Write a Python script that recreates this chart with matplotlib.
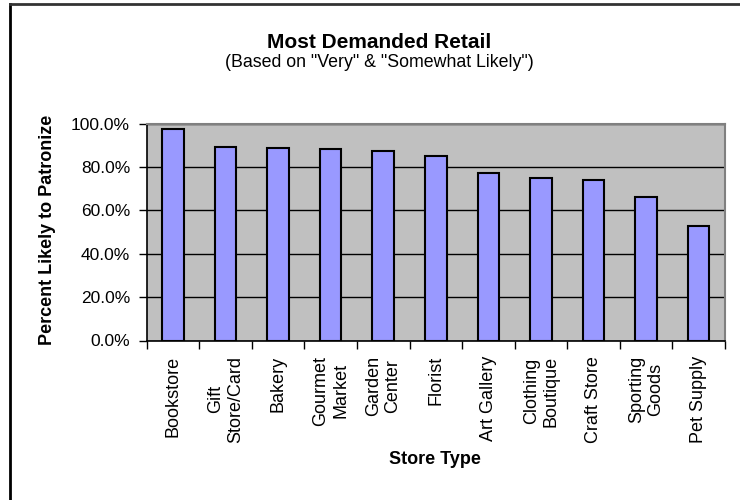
import matplotlib
matplotlib.use("Agg")
import matplotlib.pyplot as plt
from matplotlib.ticker import FixedLocator, FuncFormatter
from matplotlib.lines import Line2D

plt.rcParams['font.family'] = ['Liberation Sans', 'DejaVu Sans']

categories = ["Bookstore", "Gift\nStore/Card", "Bakery", "Gourmet\nMarket", "Garden\nCenter",
              "Florist", "Art Gallery", "Clothing\nBoutique", "Craft Store", "Sporting\nGoods",
              "Pet Supply"]
values = [97.4, 89.0, 88.7, 88.1, 87.5, 84.9, 77.0, 74.8, 73.8, 66.3, 52.8]
y_ticks = [0, 20, 40, 60, 80, 100]

W, H = 740, 500
fig = plt.figure(figsize=(W / 100, H / 100), dpi=100)
fig.patch.set_facecolor("white")

left, right, top, bottom = 146.7, 725, 123.5, 340.5
ax = fig.add_axes([left / W, 1 - bottom / H, (right - left) / W, (bottom - top) / H])
ax.set_facecolor("#C0C0C0")

x = list(range(len(categories)))
ax.bar(x, values, width=0.41, color="#9999FF", edgecolor="black", linewidth=1.5, zorder=3)

ax.set_xlim(-0.5, len(categories) - 0.5)
ax.set_ylim(0, 100)

ax.yaxis.set_major_locator(FixedLocator(y_ticks))
ax.yaxis.set_major_formatter(FuncFormatter(lambda v, p: f"{v:.1f}%"))
ax.grid(axis="y", color="black", linewidth=1.0, zorder=1)
ax.set_axisbelow(True)

# x ticks at category boundaries, labels at centres
ax.set_xticks([i - 0.5 for i in range(len(categories) + 1)])
ax.set_xticklabels([])
ax.set_xticks(x, minor=True)
ax.set_xticklabels(categories, minor=True, rotation=90, va="top", ha="center",
                   multialignment="center", fontsize=13)
ax.tick_params(axis="x", which="minor", length=0, pad=11)
ax.tick_params(axis="x", which="major", length=6, width=1, direction="out")
ax.tick_params(axis="y", length=6, width=1, direction="out", labelsize=12.5, pad=6)

for s in ["top", "right"]:
    ax.spines[s].set_color("#808080")
    ax.spines[s].set_linewidth(1.5)
for s in ["left", "bottom"]:
    ax.spines[s].set_color("black")
    ax.spines[s].set_linewidth(1.2)

fig.text(48 / W, 1 - 230 / H, "Percent Likely to Patronize", rotation=90,
         ha="center", va="center", fontsize=13, fontweight="bold")
fig.text(435 / W, 1 - 460 / H, "Store Type", ha="center", va="center",
         fontsize=13, fontweight="bold")

fig.text(379 / W, 1 - 42 / H, "Most Demanded Retail", ha="center", va="center",
         fontsize=15, fontweight="bold")
fig.text(379 / W, 1 - 62.5 / H, '(Based on "Very" & "Somewhat Likely")', ha="center",
         va="center", fontsize=12.8)

# outer chart frame (left and top edges visible)
fig.add_artist(Line2D([10 / W, 10 / W], [0, 1 - 4 / H], transform=fig.transFigure,
                      color="black", linewidth=2))
fig.add_artist(Line2D([10 / W, 1], [1 - 4 / H, 1 - 4 / H], transform=fig.transFigure,
                      color="#333333", linewidth=2))

fig.savefig("out.png", dpi=100)
